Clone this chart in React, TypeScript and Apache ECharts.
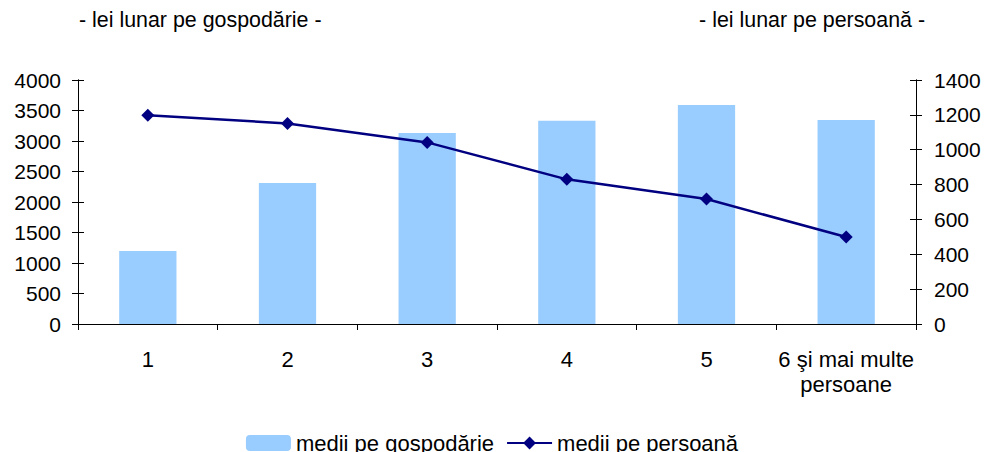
import React, { useEffect, useRef } from "react";
import * as echarts from "echarts";

const categories = ["1", "2", "3", "4", "5", "6 şi mai multe\npersoane"];
const perHousehold = [1195, 2310, 3130, 3330, 3590, 3345];
const perPerson = [1198, 1151, 1042, 830, 717, 499];
const leftTitle = "- lei lunar pe gospodărie -";
const rightTitle = "- lei lunar pe persoană -";
const seriesNames = ["medii pe gospodărie", "medii pe persoană"];

export default function App() {
  const ref = useRef<HTMLDivElement>(null);
  useEffect(() => {
    const chart = echarts.init(ref.current!, null, { renderer: "svg" });
    const font = "'Liberation Sans', Arial, sans-serif";
    const fs = 21;
    const axisBase = {
      type: "value" as const,
      splitLine: { show: false },
      axisLine: { show: true, lineStyle: { color: "#000", width: 1 } },
    };
    const fmt = (v: number) => String(v);
    chart.setOption({
      animation: false,
      textStyle: { fontFamily: font },
      grid: { left: 78, right: 68, top: 80, bottom: 128, containLabel: false },
      graphic: [
        { type: "text", left: 79, top: 9, style: { text: leftTitle, font: `21.4px ${font}`, fill: "#000" } },
        { type: "text", right: 59, top: 9, style: { text: rightTitle, font: `21.4px ${font}`, fill: "#000" } },
      ],
      legend: {
        top: 427,
        left: "center",
        itemWidth: 45,
        itemHeight: 16,
        itemGap: 12,
        textStyle: { fontSize: 22, color: "#000", fontFamily: font },
        data: seriesNames,
      },
      xAxis: {
        type: "category",
        data: categories,
        axisLine: { lineStyle: { color: "#000" } },
        axisTick: { show: true, length: 6, lineStyle: { color: "#000" } },
        axisLabel: { color: "#000", fontSize: 22, margin: 23, lineHeight: 25, interval: 0, fontFamily: font },
      },
      yAxis: [
        {
          ...axisBase,
          position: "left",
          min: 0,
          max: 4000,
          interval: 500,
          axisTick: { show: true, length: 6, lineStyle: { color: "#000" } },
          axisLabel: { color: "#000", fontSize: fs, margin: 17, formatter: fmt, fontFamily: font },
        },
        {
          ...axisBase,
          position: "right",
          min: 0,
          max: 1400,
          interval: 200,
          axisTick: { show: true, length: 6, lineStyle: { color: "#000" } },
          axisLabel: { color: "#000", fontSize: fs, margin: 18, formatter: fmt, fontFamily: font },
        },
        {
          ...axisBase,
          position: "left",
          min: 0,
          max: 4000,
          interval: 500,
          axisTick: { show: true, inside: true, length: 6, lineStyle: { color: "#000" } },
          axisLabel: { show: false },
        },
        {
          ...axisBase,
          position: "right",
          min: 0,
          max: 1400,
          interval: 200,
          axisTick: { show: true, inside: true, length: 6, lineStyle: { color: "#000" } },
          axisLabel: { show: false },
        },
      ],
      series: [
        {
          name: seriesNames[0],
          type: "bar",
          yAxisIndex: 0,
          data: perHousehold,
          barWidth: "41%",
          itemStyle: { color: "#99CCFF" },
        },
        {
          name: seriesNames[1],
          type: "line",
          yAxisIndex: 1,
          data: perPerson,
          symbol: "diamond",
          symbolSize: 13,
          lineStyle: { color: "#000080", width: 2.5 },
          itemStyle: { color: "#000080" },
        },
      ],
    });
    return () => chart.dispose();
  }, []);
  return <div ref={ref} style={{ width: 984, height: 452, position: "absolute", left: 0, top: 0 }} />;
}
